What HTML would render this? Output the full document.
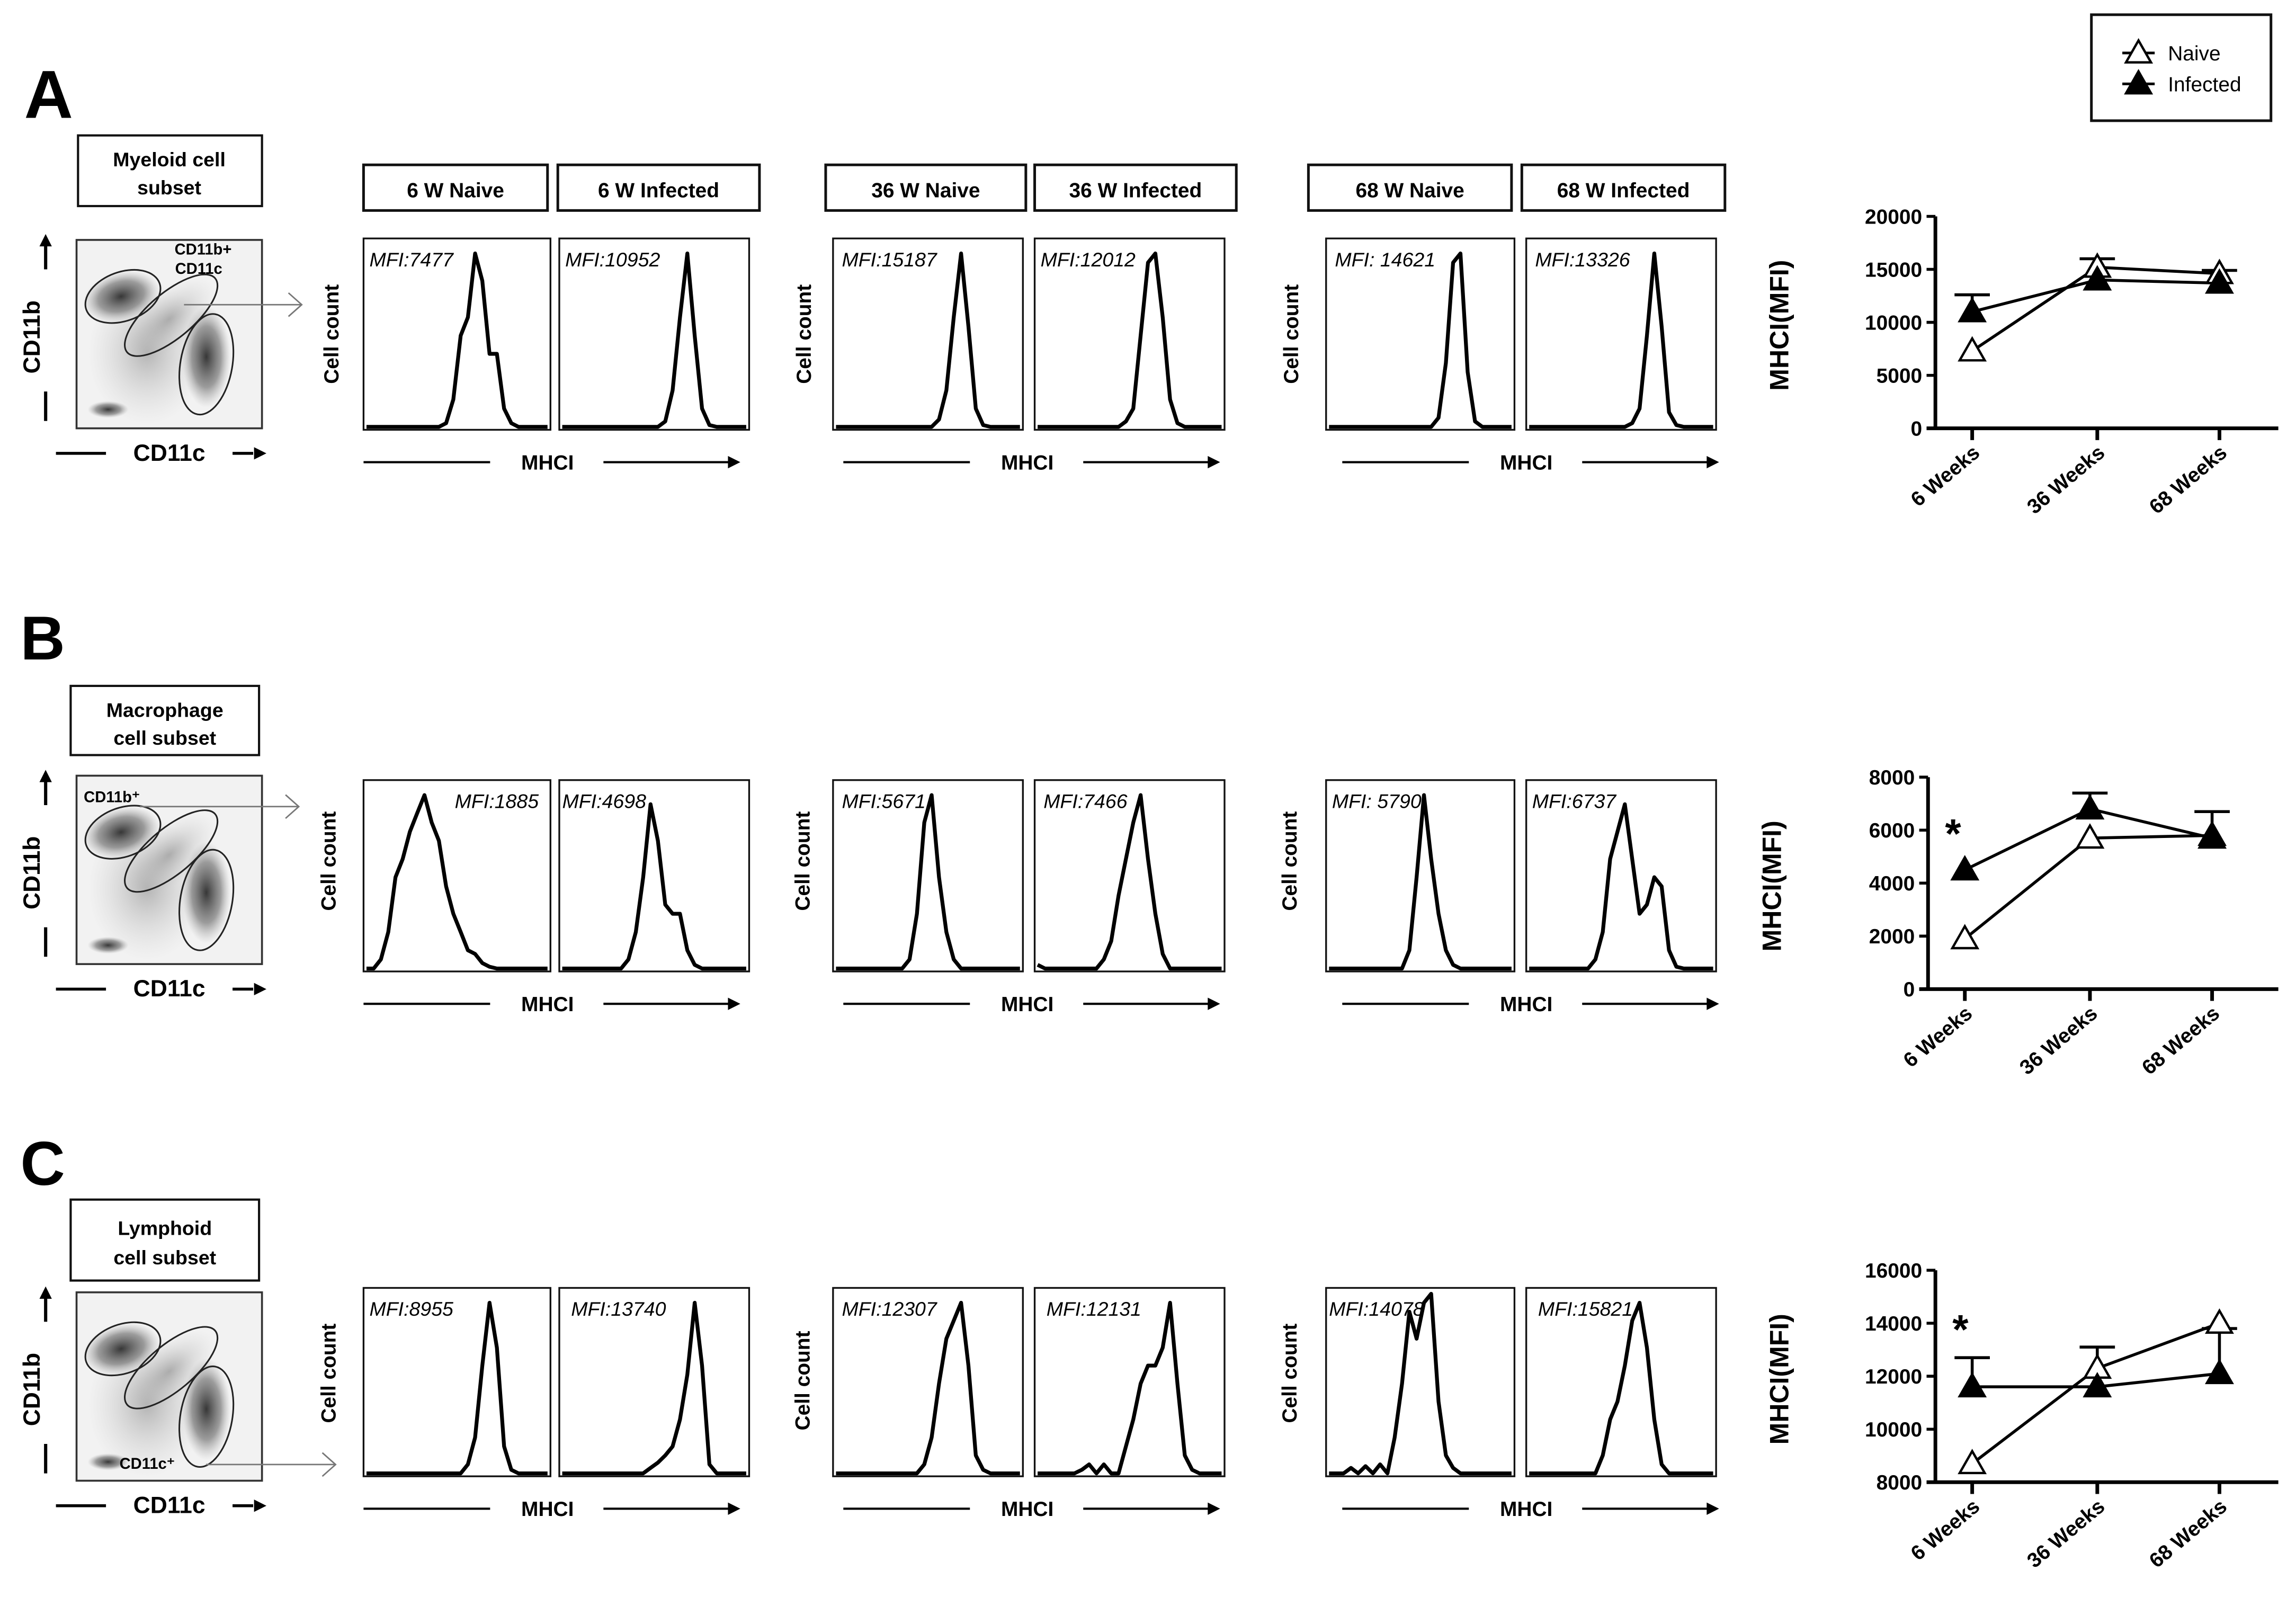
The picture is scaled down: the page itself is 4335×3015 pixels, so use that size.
<!DOCTYPE html>
<html><head><meta charset="utf-8"><style>
html,body{margin:0;padding:0;background:#fff}
svg{display:block}
text{font-family:"Liberation Sans",Arial,sans-serif}
</style></head><body>
<svg id="fig" xmlns="http://www.w3.org/2000/svg" width="4335" height="3015" viewBox="0 0 1560 1085">
<defs>
<radialGradient id="dense"><stop offset="0" stop-color="#222" stop-opacity="0.9"/><stop offset="0.6" stop-color="#555" stop-opacity="0.55"/><stop offset="1" stop-color="#999" stop-opacity="0"/></radialGradient>
<radialGradient id="light"><stop offset="0" stop-color="#777" stop-opacity="0.5"/><stop offset="1" stop-color="#bbb" stop-opacity="0"/></radialGradient>
</defs>
<g id="root"></g>
</svg>
<script>
// ---- chart data ----
const categories = ["6 Weeks","36 Weeks","68 Weeks"];
const naiveA = [7300, 15200, 14600];
const infectedA = [11000, 14000, 13700];
const errNaiveA = [0, 16000, 14900];
const errInfA = [12600, 0, 0];
const ticksA = [0, 5000, 10000, 15000, 20000];
const naiveB = [1900, 5700, 5800];
const infectedB = [4500, 6800, 5700];
const errNaiveB = [0, 0, 0];
const errInfB = [0, 7400, 6700];
const ticksB = [0, 2000, 4000, 6000, 8000];
const naiveC = [8700, 12300, 14000];
const infectedC = [11600, 11600, 12100];
const errNaiveC = [0, 13100, 0];
const errInfC = [12700, 0, 13800];
const ticksC = [8000, 10000, 12000, 14000, 16000];
const starsA = [0,0,0], starsB = [6000,0,0], starsC = [13900,0,0];

// histogram heights (fraction of box height), 26 bins evenly across box
const hA1 = [0,0,0,0,0,0,0,0,0,0,0,0.02,0.15,0.5,0.6,0.95,0.8,0.4,0.4,0.1,0.02,0,0,0,0,0];
const hA2 = [0,0,0,0,0,0,0,0,0,0,0,0,0,0,0.03,0.2,0.6,0.95,0.5,0.1,0.01,0,0,0,0,0];
const hA3 = [0,0,0,0,0,0,0,0,0,0,0,0,0,0,0.04,0.2,0.6,0.95,0.55,0.1,0.01,0,0,0,0,0];
const hA4 = [0,0,0,0,0,0,0,0,0,0,0,0,0.03,0.1,0.5,0.9,0.95,0.6,0.15,0.02,0,0,0,0,0,0];
const hA5 = [0,0,0,0,0,0,0,0,0,0,0,0,0,0,0,0.05,0.35,0.9,0.95,0.3,0.03,0,0,0,0,0];
const hA6 = [0,0,0,0,0,0,0,0,0,0,0,0,0,0,0.02,0.1,0.5,0.95,0.55,0.08,0.01,0,0,0,0,0];
const hB1 = [0,0,0.05,0.2,0.5,0.6,0.75,0.85,0.95,0.8,0.7,0.45,0.3,0.2,0.1,0.08,0.03,0.01,0,0,0,0,0,0,0,0];
const hB2 = [0,0,0,0,0,0,0,0,0,0.05,0.2,0.5,0.9,0.7,0.35,0.3,0.3,0.1,0.02,0,0,0,0,0,0,0];
const hB3 = [0,0,0,0,0,0,0,0,0,0,0.05,0.3,0.8,0.95,0.5,0.2,0.05,0,0,0,0,0,0,0,0,0];
const hB4 = [0.02,0,0,0,0,0,0,0,0,0.05,0.15,0.4,0.6,0.8,0.95,0.6,0.3,0.08,0,0,0,0,0,0,0,0];
const hB5 = [0,0,0,0,0,0,0,0,0,0,0,0.1,0.5,0.95,0.6,0.3,0.1,0.02,0,0,0,0,0,0,0,0];
const hB6 = [0,0,0,0,0,0,0,0,0,0.05,0.2,0.6,0.75,0.9,0.6,0.3,0.35,0.5,0.45,0.1,0.01,0,0,0,0,0];
const hC1 = [0,0,0,0,0,0,0,0,0,0,0,0,0,0,0.05,0.2,0.6,0.95,0.7,0.15,0.02,0,0,0,0,0];
const hC2 = [0,0,0,0,0,0,0,0,0,0,0,0,0.03,0.06,0.1,0.15,0.3,0.55,0.95,0.6,0.05,0,0,0,0,0];
const hC3 = [0,0,0,0,0,0,0,0,0,0,0,0,0.05,0.2,0.5,0.75,0.85,0.95,0.6,0.1,0.02,0,0,0,0,0];
const hC4 = [0,0,0,0,0,0,0.02,0.05,0,0.05,0,0,0.15,0.3,0.5,0.6,0.6,0.7,0.95,0.5,0.1,0.02,0,0,0,0];
const hC5 = [0,0,0,0.03,0,0.04,0,0.05,0,0.2,0.5,0.9,0.75,0.95,1.0,0.4,0.1,0.03,0,0,0,0,0,0,0,0];
const hC6 = [0,0,0,0,0,0,0,0,0,0,0.1,0.3,0.4,0.6,0.85,0.95,0.7,0.3,0.05,0,0,0,0,0,0,0];

const NS="http://www.w3.org/2000/svg";
const root=document.getElementById('root');
function el(tag,attrs,parent,txt){const e=document.createElementNS(NS,tag);for(const k in attrs)e.setAttribute(k,attrs[k]);if(txt!==undefined)e.textContent=txt;(parent||root).appendChild(e);return e;}

function rect(x,y,w,h,sw,name){const r=el('rect',{x,y,width:w,height:h,fill:'none',stroke:'#111','stroke-width':sw});return r;}
function text(x,y,s,size,opts,name){const t=el('text',Object.assign({x,y,'font-size':size,'font-weight':'bold','text-anchor':'middle',fill:'#000'},opts||{}),root,s);return t;}
function line(x1,y1,x2,y2,sw,col,name){const l=el('line',{x1,y1,x2,y2,stroke:col||'#000','stroke-width':sw});return l;}
function arrowHead(x,y,dir,s,name){let pts;if(dir==='r')pts=`${x},${y} ${x-s*1.4},${y-s*0.7} ${x-s*1.4},${y+s*0.7}`;else pts=`${x},${y} ${x-s*0.7},${y+s*1.4} ${x+s*0.7},${y+s*1.4}`;const p=el('polygon',{points:pts,fill:'#000'});}

function scatter(x0,y0,label,arrow,extra){
  const w=126,h=128;
  const g=el('g',{});
  el('rect',{x:x0,y:y0,width:w,height:h,fill:'#f2f2f2'},g);
  el('ellipse',{cx:x0+0.38*w,cy:y0+0.6*h,rx:0.32*w,ry:0.38*h,fill:'url(#light)'},g);
  el('ellipse',{cx:x0+0.5*w,cy:y0+0.42*h,rx:0.3*w,ry:0.15*h,fill:'url(#light)',transform:`rotate(-40 ${x0+0.5*w} ${y0+0.42*h})`},g);
  el('ellipse',{cx:x0+0.24*w,cy:y0+0.3*h,rx:0.21*w,ry:0.13*h,fill:'url(#dense)',transform:`rotate(-15 ${x0+0.24*w} ${y0+0.3*h})`},g);
  el('ellipse',{cx:x0+0.7*w,cy:y0+0.62*h,rx:0.13*w,ry:0.27*h,fill:'url(#dense)'},g);
  el('ellipse',{cx:x0+0.17*w,cy:y0+0.9*h,rx:0.11*w,ry:0.045*h,fill:'url(#dense)'},g);
  el('rect',{x:x0,y:y0,width:w,height:h,fill:'none',stroke:'#333','stroke-width':1.3},g);
  [[0.25,0.3,0.21,0.13,-20],[0.51,0.4,0.31,0.12,-40],[0.7,0.66,0.14,0.27,10]].forEach(e=>{
    const c=el('ellipse',{cx:x0+e[0]*w,cy:y0+e[1]*h,rx:e[2]*w,ry:e[3]*h,fill:'none',stroke:'#222','stroke-width':1.1,transform:`rotate(${e[4]} ${x0+e[0]*w} ${y0+e[1]*h})`},g);
    
  });
  line(arrow[0],arrow[1],arrow[2],arrow[1],1,'#777','gate-arrow');
  const ah=el('polyline',{points:`${arrow[2]-9},${arrow[1]-8} ${arrow[2]},${arrow[1]} ${arrow[2]-9},${arrow[1]+8}`,fill:'none',stroke:'#777','stroke-width':1});
  
  text(27,y0+h/2+2,'CD11b',16,{transform:`rotate(-90 27 ${y0+h/2+2})`},'y-axis-cd11b');
  line(31,y0+20,31,y0+4,2.2,'#000','cd11b-arrow');arrowHead(31,y0-4,'u',6,'cd11b-arrow-head');
  line(31,y0+h-25,31,y0+h-5,2.2,'#000','cd11b-dash');
  text(115,y0+h+22,'CD11c',16,{},'x-axis-cd11c');
  line(38,y0+h+17,72,y0+h+17,2,'#000','cd11c-dash');
  line(158,y0+h+17,172,y0+h+17,2,'#000','cd11c-arrow');arrowHead(181,y0+h+17,'r',6,'cd11c-arrow-head');
  if(extra) extra(x0,y0);
}

function histogram(x0,y0,w,h,vals,mfi,mfiX,name){
  rect(x0,y0,w,h,1.2,name+'-box');
  const n=vals.length;const pts=[];
  for(let i=0;i<n;i++){pts.push(`${(x0+2+i*(w-4)/(n-1)).toFixed(1)},${(y0+h-2-vals[i]*(h-6)).toFixed(1)}`);}
  const p=el('polyline',{points:pts.join(' '),fill:'none',stroke:'#000','stroke-width':2.6,'stroke-linejoin':'round'});
  
  const t=el('text',{x:x0+(mfiX||4),y:y0+19,'font-size':13.5,'font-style':'italic',fill:'#000'},root,mfi);
  
}
function mhciRow(x1,y){
  line(x1,y,x1+86,y,1.5,'#000','mhci-line');
  text(x1+125,y+5,'MHCI',14,{},'mhci-label');
  line(x1+163,y,x1+248,y,1.5,'#000','mhci-arrow');arrowHead(x1+256,y,'r',6,'mhci-arrow-head');
}
function cellCount(x,yc){text(x,yc,'Cell count',14,{transform:`rotate(-90 ${x} ${yc})`},'cell-count-label');}

function tri(x,y,filled,name){const s=8.5;const p=el('polygon',{points:`${x},${y-s} ${x-s},${y+s*0.75} ${x+s},${y+s*0.75}`,fill:filled?'#000':'#fff',stroke:'#000','stroke-width':1.6});}

function lineChart(ax,yTop,yBot,ticks,naive,inf,errN,errI,stars){
  const x0=ax,xEnd=1548,xs=[ax+25,ax+110,ax+193];
  const vmin=ticks[0],vmax=ticks[ticks.length-1];
  const yS=v=>yBot-(v-vmin)/(vmax-vmin)*(yBot-yTop);
  line(x0,yTop,x0,yBot,2.5,'#000','y-axis');
  line(x0-6,yBot,xEnd,yBot,2.5,'#000','x-axis');
  ticks.forEach(t=>{line(x0-6,yS(t),x0,yS(t),2,'#000','y-tick');text(x0-9,yS(t)+5,String(t),14,{'text-anchor':'end'},'y-tick-label');});
  xs.forEach((x,i)=>{line(x,yBot,x,yBot+8,2.5,'#000','x-tick');
    const tx=x+6,ty=yBot+18;text(tx,ty,categories[i],14,{'text-anchor':'end',transform:`rotate(-40 ${tx} ${ty})`},'x-tick-label');});
  text(ax-100,(yTop+yBot)/2+2,'MHCI(MFI)',18,{transform:`rotate(-90 ${ax-100} ${(yTop+yBot)/2+2})`},'y-axis-title');
  [[errN,naive],[errI,inf]].forEach(([e,v])=>e.forEach((u,i)=>{if(u>0){line(xs[i],yS(v[i]),xs[i],yS(u),2,'#000','error-bar');line(xs[i]-12,yS(u),xs[i]+12,yS(u),2,'#000','error-cap');}}));
  const lp=(v)=>v.map((d,i)=>`${xs[i]},${yS(d)}`).join(' ');
  const ln=el('polyline',{points:lp(naive),fill:'none',stroke:'#000','stroke-width':2});
  const li=el('polyline',{points:lp(inf),fill:'none',stroke:'#000','stroke-width':2});
  naive.forEach((d,i)=>tri(xs[i],yS(d),false,'naive-point'));
  inf.forEach((d,i)=>tri(xs[i],yS(d),true,'infected-point'));
  stars.forEach((s,i)=>{if(s>0)text(xs[i]-8,yS(s)+12,'*',28,{},'significance-star');});
}

// ---- Panel A ----
text(33,80,'A',46,{},'panel-label-a');
rect(53,92,125,48,1.5,'myeloid-label-box');
text(115,113,'Myeloid cell',13.5,{},'myeloid-label');text(115,132,'subset',13.5,{},'myeloid-label-2');
scatter(52,163,'',[125,207,205],(x,y)=>{text(138,y+10,'CD11b+',10.5,{},'gate-label');text(135,y+23,'CD11c',10.5,{},'gate-label-2');});
[[247,372,'6 W Naive'],[379,516,'6 W Infected'],[561,697,'36 W Naive'],[703,840,'36 W Infected'],[889,1027,'68 W Naive'],[1034,1172,'68 W Infected']].forEach(b=>{
  rect(b[0],112,b[1]-b[0],31,1.8,'group-header-box');text((b[0]+b[1])/2,134,b[2],14,{},'group-header');});
histogram(247,162,127,130,hA1,'MFI:7477',4,'hist-a-6w-naive');
histogram(380,162,129,130,hA2,'MFI:10952',4,'hist-a-6w-infected');
histogram(566,162,129,130,hA3,'MFI:15187',6,'hist-a-36w-naive');
histogram(703,162,129,130,hA4,'MFI:12012',4,'hist-a-36w-infected');
histogram(901,162,128,130,hA5,'MFI: 14621',6,'hist-a-68w-naive');
histogram(1037,162,129,130,hA6,'MFI:13326',6,'hist-a-68w-infected');
cellCount(230,227);cellCount(551,227);cellCount(882,227);
mhciRow(247,314);mhciRow(573,314);mhciRow(912,314);
lineChart(1315,147,291,ticksA,naiveA,infectedA,errNaiveA,errInfA,starsA);
rect(1421,10,122,72,1.8,'legend-box');
line(1442,36,1464,36,1.8,'#000','legend-naive-line');tri(1453,36,false,'legend-naive-marker');
text(1473,41,'Naive',14,{'font-weight':'normal','text-anchor':'start'},'legend-naive-label');
line(1442,57,1464,57,1.8,'#000','legend-infected-line');tri(1453,57,true,'legend-infected-marker');
text(1473,62,'Infected',14,{'font-weight':'normal','text-anchor':'start'},'legend-infected-label');

// ---- Panel B ----
text(29,448,'B',42,{},'panel-label-b');
rect(48,466,128,47,1.5,'macrophage-label-box');
text(112,487,'Macrophage',13.5,{},'macrophage-label');text(112,506,'cell subset',13.5,{},'macrophage-label-2');
scatter(52,527,'',[95,548,203],(x,y)=>{text(76,y+18,'CD11b⁺',10.5,{},'gate-label');});
histogram(247,530,127,130,hB1,'MFI:1885',62,'hist-b-6w-naive');
histogram(380,530,129,130,hB2,'MFI:4698',2,'hist-b-6w-infected');
histogram(566,530,129,130,hB3,'MFI:5671',6,'hist-b-36w-naive');
histogram(703,530,129,130,hB4,'MFI:7466',6,'hist-b-36w-infected');
histogram(901,530,128,130,hB5,'MFI: 5790',4,'hist-b-68w-naive');
histogram(1037,530,129,130,hB6,'MFI:6737',4,'hist-b-68w-infected');
cellCount(228,585);cellCount(550,585);cellCount(881,585);
mhciRow(247,682);mhciRow(573,682);mhciRow(912,682);
lineChart(1310,528,672,ticksB,naiveB,infectedB,errNaiveB,errInfB,starsB);

// ---- Panel C ----
text(29,805,'C',42,{},'panel-label-c');
rect(48,815,128,55,1.5,'lymphoid-label-box');
text(112,839,'Lymphoid',13.5,{},'lymphoid-label');text(112,859,'cell subset',13.5,{},'lymphoid-label-2');
scatter(52,878,'',[140,995,228],(x,y)=>{text(100,y+120,'CD11c⁺',10.5,{},'gate-label');});
histogram(247,875,127,128,hC1,'MFI:8955',4,'hist-c-6w-naive');
histogram(380,875,129,128,hC2,'MFI:13740',8,'hist-c-6w-infected');
histogram(566,875,129,128,hC3,'MFI:12307',6,'hist-c-36w-naive');
histogram(703,875,129,128,hC4,'MFI:12131',8,'hist-c-36w-infected');
histogram(901,875,128,128,hC5,'MFI:14078',2,'hist-c-68w-naive');
histogram(1037,875,129,128,hC6,'MFI:15821',8,'hist-c-68w-infected');
cellCount(228,933);cellCount(550,938);cellCount(881,933);
mhciRow(247,1025);mhciRow(573,1025);mhciRow(912,1025);
lineChart(1315,863,1007,ticksC,naiveC,infectedC,errNaiveC,errInfC,starsC);
</script>
</body></html>
